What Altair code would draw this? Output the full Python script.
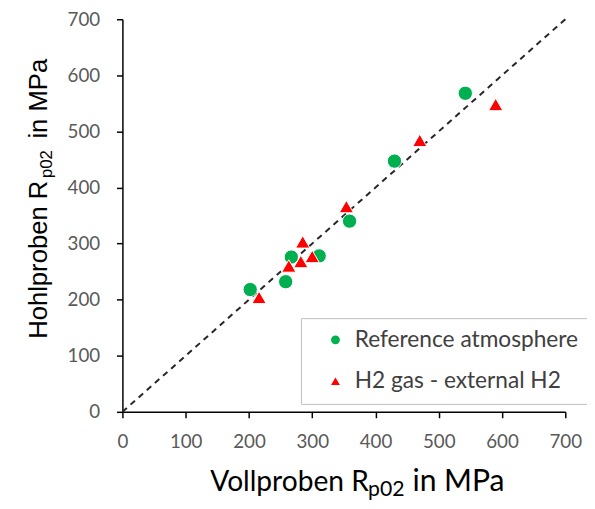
import altair as alt
import pandas as pd

# data
ref_x = [202, 258, 267, 311, 359, 430, 542]
ref_y = [218, 232, 276, 278, 340, 447, 568]
h2_x = [216, 263, 282, 285, 300, 354, 470, 590]
h2_y = [204, 260, 268, 303, 277, 366, 484, 548]
series = ["Reference atmosphere", "H2 gas - external H2"]
diag_vals = [0, 700]
tick_vals = list(range(0, 701, 50))

df = pd.DataFrame({
    "x": ref_x + h2_x,
    "y": ref_y + h2_y,
    "s": [series[0]] * len(ref_x) + [series[1]] * len(h2_x),
})
diag = pd.DataFrame({"x": diag_vals, "y": diag_vals})

W, H = 449, 398

axis_common = dict(
    values=tick_vals,
    labelExpr="datum.value % 100 == 0 ? datum.label : ''",
    grid=False,
    domainColor="black",
    domainWidth=1.5,
    tickColor="black",
    tickWidth=1.5,
    tickSize=6,
    labelFont="Lato",
    labelFontSize=19,
    labelColor="#595959",
    labelFlush=False,
    labelOverlap=False,
    title=None,
)

xs = alt.Scale(domain=[0, 700], nice=False)
ys = alt.Scale(domain=[0, 700], nice=False)

legend = alt.Legend(
    orient="none", legendX=181, legendY=303, title=None, direction="vertical",
    padding=10.5, symbolSize=81, symbolOffset=13, labelOffset=8, rowPadding=18,
    labelFont="Lato", labelFontSize=23, labelColor="#404040", labelLimit=400,
    strokeColor="#bfbfbf", fillColor="white", symbolStrokeWidth=0,
)

line = alt.Chart(diag).mark_line(
    color="#262626", strokeWidth=2, strokeDash=[6, 5]
).encode(
    x=alt.X("x:Q", scale=xs, axis=alt.Axis(labelPadding=15, **axis_common)),
    y=alt.Y("y:Q", scale=ys, axis=alt.Axis(labelPadding=17, **axis_common)),
)

pts = alt.Chart(df).mark_point(
    filled=True, size=210, opacity=1, stroke="white", strokeWidth=1
).encode(
    x="x:Q",
    y="y:Q",
    color=alt.Color("s:N", scale=alt.Scale(domain=series, range=["#00b050", "#ff0000"]), legend=legend),
    shape=alt.Shape("s:N", scale=alt.Scale(domain=series, range=["circle", "triangle-up"]), legend=legend),
    order=alt.Order("idx:Q"),
).transform_window(idx="row_number()")

one = alt.Data(values=[{"a": 1}])

def txt(text, x, y, size, font, angle=0):
    return alt.Chart(one).mark_text(
        text=text, align="left", baseline="alphabetic", font=font,
        fontSize=size, color="black", angle=angle,
    ).encode(x=alt.value(x), y=alt.value(y))

# x title pieces (relative to plot origin)
xt1 = txt("Vollproben R", 89, 478, 28.5, "Lato")
xt2 = txt("p02", 249, 483, 21.5, "Lato")
xt3 = txt("in MPa", 294, 478, 30.5, "Lato")
# y title pieces (rotated)
yt1 = txt("Hohlproben R", -76, 324, 26, "Liberation Sans", 270)
yt2 = txt("p02", -71, 161, 17, "Liberation Sans", 270)
yt3 = txt("in MPa", -76, 121, 26, "Liberation Sans", 270)

chart = alt.layer(line, pts, xt1, xt2, xt3, yt1, yt2, yt3).properties(
    width=W, height=H,
    autosize=alt.AutoSizeParams(type="none"),
    padding={"left": 116, "top": 8, "right": 22, "bottom": 87},
).configure_view(stroke=None)

chart.save("out.html", embed_options={"renderer": "svg", "actions": False})
